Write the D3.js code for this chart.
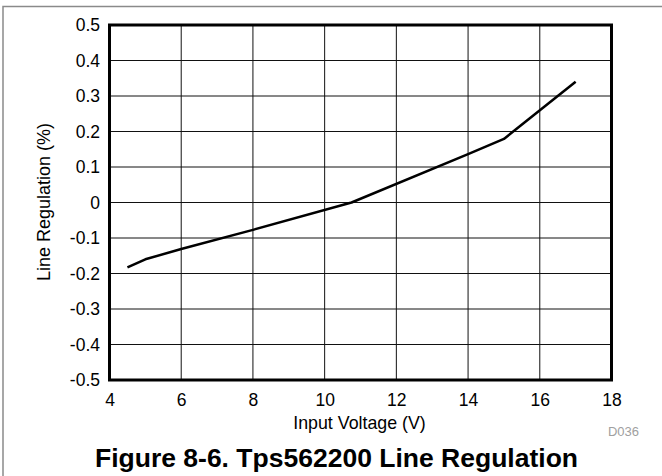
<!DOCTYPE html>
<html><head><meta charset="utf-8">
<script src="https://cdn.jsdelivr.net/npm/d3@7"></script>
<style>body{margin:0;background:#fff}svg{display:block}text{font-family:"Liberation Sans",Arial,sans-serif}</style>
</head><body>
<svg id="c" width="662" height="476"></svg>
<script>
const voltage = [4.5, 5, 6, 8, 10.75, 14, 15, 17];
const regulation = [-0.183, -0.16, -0.131, -0.077, 0.0, 0.136, 0.179, 0.34];
const xTicks = [4, 6, 8, 10, 12, 14, 16, 18];
const yTicks = [-0.5, -0.4, -0.3, -0.2, -0.1, 0, 0.1, 0.2, 0.3, 0.4, 0.5];
const yTickLabels = ["-0.5","-0.4","-0.3","-0.2","-0.1","0","0.1","0.2","0.3","0.4","0.5"];

const svg = d3.select("#c");
const L = 109.5, R = 611.5, T = 25, B = 380;
const x = d3.scaleLinear().domain([4, 18]).range([L, R]);
const y = d3.scaleLinear().domain([-0.5, 0.5]).range([B, T]);
const FONT = "Liberation Sans, Arial, sans-serif";

// outer frame
svg.append("path").attr("d", `M3,476 V6.5 H662`).attr("fill","none").attr("stroke","#8a8a8a").attr("stroke-width",1.5);

// grid
const g = svg.append("g");
g.selectAll("line.v").data(xTicks.slice(1,-1)).join("line")
  .attr("x1", d=>x(d)).attr("x2", d=>x(d)).attr("y1", T).attr("y2", B)
  .attr("stroke","#111").attr("stroke-width",1);
g.selectAll("line.h").data(yTicks.slice(1,-1)).join("line")
  .attr("y1", d=>y(d)).attr("y2", d=>y(d)).attr("x1", L).attr("x2", R)
  .attr("stroke","#111").attr("stroke-width",1);

// axes labels via d3 axes
const xAxis = svg.append("g").attr("transform",`translate(0,${B})`)
  .call(d3.axisBottom(x).tickValues(xTicks).tickSize(0).tickPadding(14).tickFormat(d3.format("d")));
xAxis.select(".domain").remove();
xAxis.selectAll("text").attr("font-size",17.5).attr("fill","#000").attr("font-family",FONT);

const yAxis = svg.append("g").attr("transform",`translate(${L},0)`)
  .call(d3.axisLeft(y).tickValues(yTicks).tickSize(0).tickPadding(9.5).tickFormat((d,i)=>yTickLabels[i]));
yAxis.select(".domain").remove();
yAxis.selectAll("text").attr("font-size",17.5).attr("fill","#000").attr("font-family",FONT);

// data line
const line = d3.line().x((d,i)=>x(voltage[i])).y((d,i)=>y(regulation[i]));
svg.append("path").datum(voltage).attr("d", line)
  .attr("fill","none").attr("stroke","#000").attr("stroke-width",2.5).attr("stroke-linejoin","round");

// plot border
svg.append("rect").attr("x",L).attr("y",T).attr("width",R-L).attr("height",B-T)
  .attr("fill","none").attr("stroke","#000").attr("stroke-width",3);

// titles
svg.append("text").attr("x", 359.5).attr("y", 428.5).attr("text-anchor","middle")
  .attr("font-size",17.8).text("Input Voltage (V)");
svg.append("text").attr("transform",`translate(50,202) rotate(-90)`).attr("text-anchor","middle")
  .attr("font-size",18).text("Line Regulation (%)");
svg.append("text").attr("x", 639).attr("y", 436).attr("text-anchor","end")
  .attr("font-size",13).attr("fill","#a0a0a0").text("D036");
svg.append("text").attr("x", 336.5).attr("y", 467).attr("text-anchor","middle")
  .attr("font-size",26.5).attr("font-weight","bold").text("Figure 8-6. Tps562200 Line Regulation");
</script>
</body></html>
